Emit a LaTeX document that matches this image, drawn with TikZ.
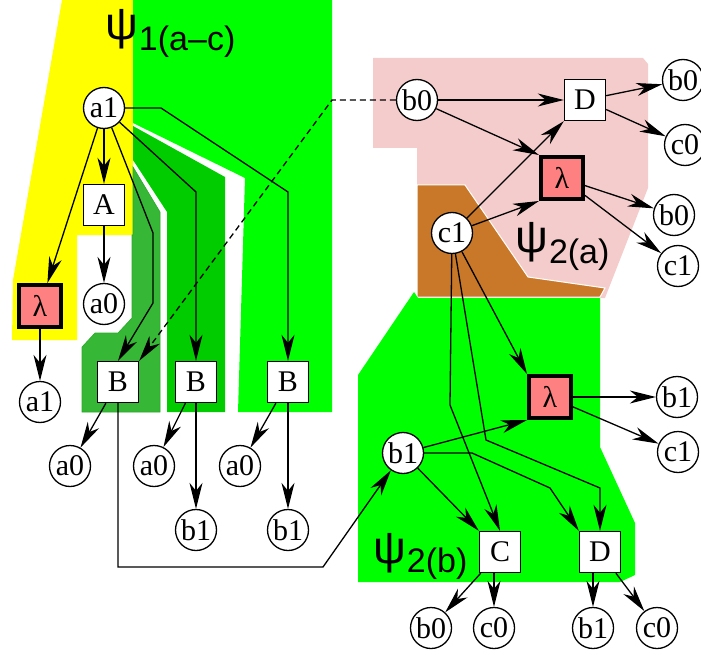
\documentclass[tikz,border=0pt]{standalone}
\usepackage{fontspec}
\setmainfont{Liberation Serif}
\newfontfamily\psifont{Liberation Sans}
\usetikzlibrary{arrows.meta}
\definecolor{yel}{RGB}{255,255,0}
\definecolor{brg}{RGB}{0,255,0}
\definecolor{dkg}{RGB}{0,204,0}
\definecolor{mdg}{RGB}{54,184,54}
\definecolor{mdgedge}{RGB}{40,170,40}
\definecolor{pnk}{RGB}{245,204,204}
\definecolor{brn}{RGB}{200,120,40}
\definecolor{lamfill}{RGB}{255,128,128}
\tikzset{
  conn/.style={line width=1.3pt,-{Stealth[length=26pt,width=13pt,inset=8pt]}},
}
\begin{document}
\begin{tikzpicture}[x=1pt,y=1pt,yscale=-1,
  every node/.style={font=\fontsize{30}{30}\selectfont},
  cnode/.style={circle,draw,fill=white,line width=1.3pt,minimum size=41pt,inner sep=0pt},
  bnode/.style={rectangle,draw,fill=white,line width=1.4pt,minimum size=41pt,inner sep=0pt},
  lnode/.style={rectangle,draw,fill=lamfill,line width=4pt,minimum size=42pt,inner sep=0pt,outer sep=2pt},
  psilab/.style={inner sep=0pt,anchor=base west,font=\psifont}
]
\useasboundingbox (0,0) rectangle (701,655);
% backgrounds
\fill[yel] (62,0) -- (133,0) -- (133,235) -- (77,235) -- (77,340) -- (12,340) -- (13,280) -- cycle;
\fill[brg] (133,0) -- (332,0) -- (332,412) -- (238,412) -- (245,178) -- (133,123) -- cycle;
\fill[dkg] (133,126) -- (225,177) -- (225,412) -- (167,412) -- (167,212) -- (133,160) -- cycle;
\filldraw[fill=mdg,draw=mdgedge,line width=0.6pt] (133,167) -- (160,212) -- (160,412) -- (82,412) -- (82,347) -- (95,333) -- (118,333) -- (132,318) -- (132,235) -- (133,235) -- cycle;
\fill[pnk] (373,58) -- (643,58) -- (648,64) -- (648,188) -- (605,298) -- (417,298) -- (417,148) -- (373,148) -- cycle;
\filldraw[fill=brn,draw=white,line width=1pt] (417,185) -- (465,185) -- (528,277) -- (605,288) -- (600,297) -- (417,297) -- cycle;
\fill[brg] (358,375) -- (414,292) -- (418,298) -- (600,298) -- (600,447) -- (635,523) -- (635,575) -- (620,582) -- (358,582) -- cycle;
% labels
\node[psilab] (psi1) at (105,40) {{\fontsize{46}{46}\selectfont ψ}\hspace{1pt}{\fontsize{34}{34}\selectfont\raisebox{-11pt}{1(a–c)}}};
\node[psilab] (psi2) at (515,252) {{\fontsize{46}{46}\selectfont ψ}\hspace{1pt}{\fontsize{34}{34}\selectfont\raisebox{-11pt}{2(a)}}};
\node[psilab] (psi3) at (373,563) {{\fontsize{46}{46}\selectfont ψ}\hspace{1pt}{\fontsize{34}{34}\selectfont\raisebox{-9pt}{2(b)}}};
% left nodes
\node[cnode] (a1) at (104,108) {a1};
\node[bnode] (A) at (104,205) {A};
\node[cnode] (a0a) at (104,304) {a0};
\node[lnode] (lamL) at (40,306) {λ};
\node[cnode] (a1b) at (40,402) {a1};
\node[bnode] (B1) at (118,382) {B};
\node[bnode] (B2) at (196,382) {B};
\node[bnode] (B3) at (288,382) {B};
\node[cnode] (a0b) at (70,466) {a0};
\node[cnode] (a0c) at (154,466) {a0};
\node[cnode] (a0d) at (240,466) {a0};
\node[cnode] (b1a) at (196,530) {b1};
\node[cnode] (b1b) at (288,530) {b1};
% right nodes
\node[cnode] (b0t) at (417,100) {b0};
\node[bnode] (D1) at (585,100) {D};
\node[cnode] (b0r) at (683,80) {b0};
\node[cnode] (c0r) at (685,145) {c0};
\node[lnode] (lam2) at (562,178) {λ};
\node[cnode] (b0s) at (674,215) {b0};
\node[cnode] (c1r) at (678,266) {c1};
\node[cnode] (c1) at (452,233) {c1};
\node[lnode] (lam3) at (550,397) {λ};
\node[cnode] (b1r) at (677,397) {b1};
\node[cnode] (c1s) at (678,452) {c1};
\node[cnode] (b1m) at (403,453) {b1};
\node[bnode] (C) at (500,552) {C};
\node[bnode] (D2) at (600,552) {D};
\node[cnode] (b0b) at (431,628) {b0};
\node[cnode] (c0b) at (494,628) {c0};
\node[cnode] (b1c) at (593,628) {b1};
\node[cnode] (c0c) at (657,628) {c0};
% bend points
\coordinate (p1) at (153,233);
\coordinate (p2) at (153,303);
\coordinate (q1) at (196,192);
\coordinate (r1) at (161,108);
\coordinate (r2) at (288,192);
\coordinate (d1) at (332,100);
\coordinate (s1) at (118,567);
\coordinate (s2) at (323,567);
\coordinate (t1) at (450,405);
\coordinate (u1) at (486,440);
\coordinate (u2) at (600,488);
\coordinate (v1) at (472,453);
\coordinate (v2) at (550,488);
% left edges
\draw[conn] (a1) -- (A);
\draw[conn] (A) -- (a0a);
\draw[conn] (a1) -- (lamL);
\draw[conn] (lamL) -- (a1b);
\draw[conn] (a1) -- (p1) -- (p2) -- (B1.north);
\draw[conn,dash pattern=on 6pt off 4pt] (b0t) -- (d1) -- (B1.north east);
\draw[conn] (a1) -- (q1) -- (B2.north);
\draw[conn] (a1.east) -- (r1) -- (r2) -- (B3.north);
\draw[conn] (B1) -- (a0b);
\draw[conn] (B2) -- (a0c);
\draw[conn] (B2) -- (b1a);
\draw[conn] (B3) -- (a0d);
\draw[conn] (B3) -- (b1b);
\draw[conn] (B1.south) -- (s1) -- (s2) -- (b1m);
% right edges
\draw[conn] (b0t) -- (D1);
\draw[conn] (b0t) -- (lam2.north west);
\draw[conn] (c1) -- (D1.south west);
\draw[conn] (c1) -- (lam2.south west);
\draw[conn] (D1) -- (b0r);
\draw[conn] (D1) -- (c0r);
\draw[conn] (lam2) -- (b0s);
\draw[conn] (lam2) -- (c1r);
\draw[conn] (c1) -- (lam3.north west);
\draw[conn] (c1) -- (t1) -- (C.north);
\draw[conn] (c1) -- (u1) -- (u2) -- (D2.north);
\draw[conn] (b1m) -- (lam3.south west);
\draw[conn] (b1m) -- (C.north west);
\draw[conn] (b1m.east) -- (v1) -- (v2) -- (D2.north west);
\draw[conn] (lam3) -- (b1r);
\draw[conn] (lam3) -- (c1s);
\draw[conn] (C) -- (b0b);
\draw[conn] (c0b |- C.south) -- (c0b);
\draw[conn] (b1c |- D2.south) -- (b1c);
\draw[conn] (D2) -- (c0c);
\end{tikzpicture}
\end{document}
